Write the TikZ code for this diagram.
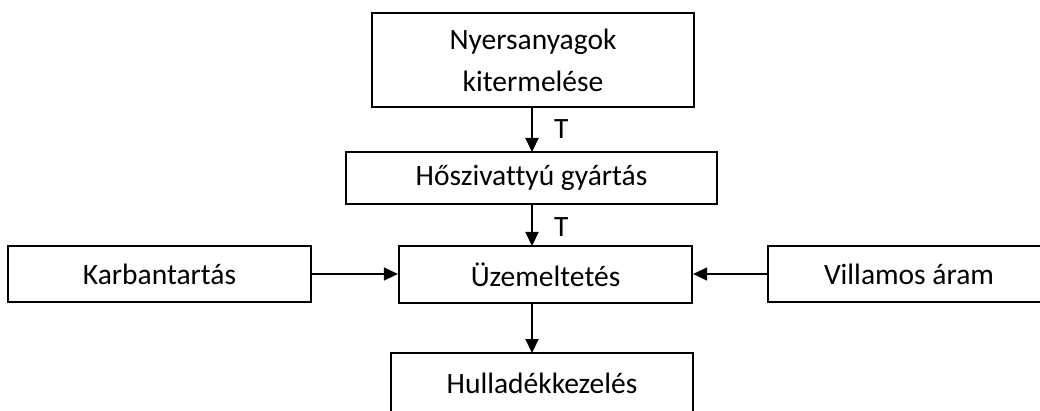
\documentclass[tikz,border=0pt]{standalone}
\usepackage{fontspec}
\setmainfont[Ligatures=NoCommon]{Carlito}
\usetikzlibrary{arrows.meta}
\begin{document}
\begin{tikzpicture}[x=1pt,y=-1pt,
  box/.style={draw, line width=2.2pt, inner sep=0pt, font=\fontsize{29.5}{42}\selectfont, align=center},
  flow/.style={-{Triangle[length=14pt,width=13pt]}, line width=2.2pt},
  side/.style={-{Triangle[length=14pt,width=13pt]}, line width=1.5pt},
  lbl/.style={inner sep=0pt, font=\fontsize{29.5}{34}\selectfont}]
  \useasboundingbox (0,0) rectangle (1040,411);
  \clip (0,0) rectangle (1040,411);
  % boxes
  \node[box, minimum width=322pt, minimum height=94pt] (raw) at (533,60) {Nyersanyagok\\kitermelése};
  \node[box, minimum width=371pt, minimum height=52pt] (mfg) at (531.5,178) {Hőszivattyú gyártás};
  \node[box, minimum width=293pt, minimum height=57pt] (op) at (545.5,274.5) {Üzemeltetés};
  \node[box, minimum width=303pt, minimum height=56pt] (mnt) at (159.5,274) {Karbantartás};
  \node[box, minimum width=282pt, minimum height=56pt] (el) at (909,274) {Villamos áram};
  \node[box, minimum width=302pt, minimum height=60pt] (waste) at (542,383) {Hulladékkezelés};
  % connectors
  \coordinate (a1) at (532,107);
  \coordinate (a2) at (532,152);
  \coordinate (b1) at (532,204);
  \coordinate (b2) at (532,246);
  \coordinate (c1) at (532,303);
  \coordinate (c2) at (532,353);
  \draw[flow] (a1) -- (a2) node[lbl, midway, anchor=west, xshift=21pt] (t1) {T};
  \draw[flow] (b1) -- (b2) node[lbl, midway, anchor=west, xshift=21pt, yshift=-2pt] (t2) {T};
  \draw[flow] (c1) -- (c2);
  \draw[side] (mnt.east) -- (op.west |- mnt.east);
  \draw[side] (el.west) -- (op.east |- el.west);
\end{tikzpicture}
\end{document}
